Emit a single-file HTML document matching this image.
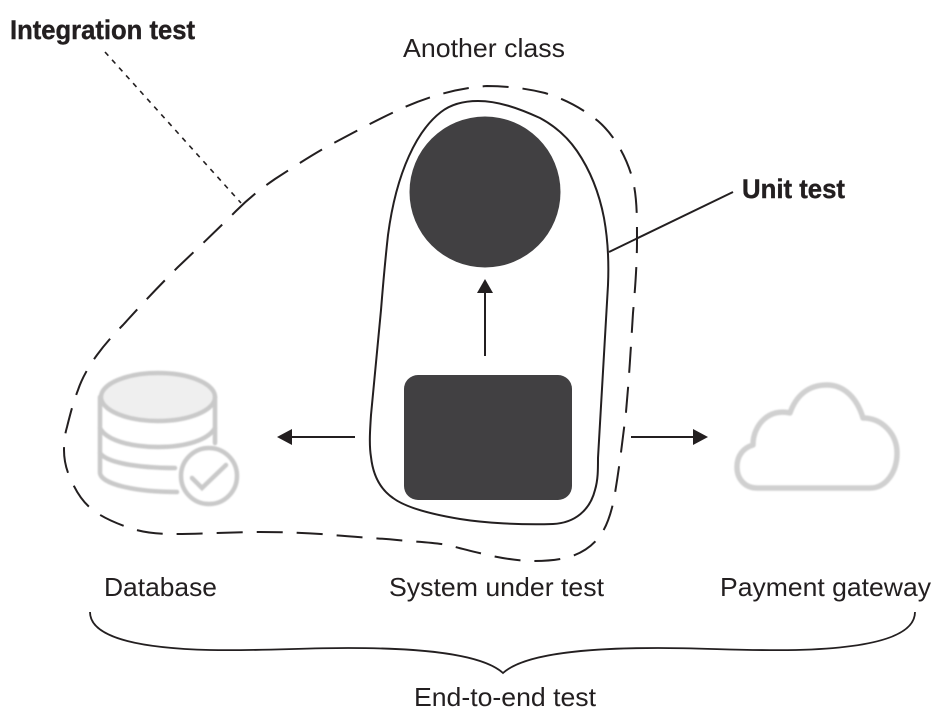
<!DOCTYPE html>
<html>
<head>
<meta charset="utf-8">
<style>
html,body{margin:0;padding:0;background:#fff;}
svg{display:block;}
text{font-family:"Liberation Sans",sans-serif;fill:#231f20;font-size:26px;}
.b{font-weight:bold;font-size:27px;stroke:#231f20;stroke-width:.4px;}
</style>
</head>
<body>
<svg width="938" height="710" viewBox="0 0 938 710" xmlns="http://www.w3.org/2000/svg">
<defs>
<filter id="soft" x="-10%" y="-10%" width="120%" height="120%"><feGaussianBlur stdDeviation="0.7"/></filter>
</defs>
<rect width="938" height="710" fill="#fff"/>

<!-- Database icon -->
<g fill="none" stroke="#c9c9c9" stroke-width="4.5" stroke-linecap="round" filter="url(#soft)">
  <ellipse cx="158" cy="397" rx="57" ry="24" fill="#efefef"/>
  <path d="M100 397V473C101 484 135 492 177 492"/>
  <path d="M215 397V443"/>
  <path d="M100 428C106 440 130 447 158 447C186 447 208 440 215 428"/>
  <path d="M100 453C106 462 135 468 175 468"/>
  <circle cx="209" cy="476" r="28"/>
  <path d="M192 478L202 488L226 465"/>
</g>

<!-- Cloud icon -->
<path d="M757 488H870C886 488 897 472 897 453C897 434 882 418 863 418C857 398 844 385 827 385C808 385 796 396 790 413C770 408 753 424 753 445C743 448 737 456 737 467C737 479 745 488 757 488Z" fill="#fff" stroke="#d0d0d0" stroke-width="5.5" stroke-linejoin="round" filter="url(#soft)"/>

<!-- Solid blob -->
<path d="M478 101C462 101 450 105 441 112C428 122 418 136 409 156C399 178 392 205 388 235C385 262 383 285 381 310L371 415C370 430 369 445 371 457C373 475 380 489 393 498C405 507 430 514 460 519C485 523 520 525 553 524C575 523 590 510 595 490C598 480 598 470 598 458L608 285C609 262 608 240 604 218C599 192 590 170 577 151C566 135 553 125 540 118C518 108 498 101 478 101Z" fill="none" stroke="#231f20" stroke-width="2"/>

<!-- Dashed blob -->
<path d="M236 211C250 197 262 188 275 179C295 166 312 155 330 145C355 132 378 119 405 107C430 96 458 88 487 86C505 86 525 88 545 93C565 99 583 109 598 121C612 133 625 153 632 177C637 195 637 215 637 240C637 265 635 290 633 313C631 345 629 380 626 412C622 445 619 470 614 499C610 518 606 527 600 536C590 549 578 555 565 558C552 561 540 561 528 561C515 560 500 558 488 555C475 552 462 549 452 546C435 542 415 542 397 540C375 538 355 537 333 535C310 533 285 532 260 532C235 532 200 534 173 534C160 534 146 533 133 529C118 524 108 520 97 513C85 505 78 495 72 482C66 470 64 460 64 450C64 440 65 434 67 427C70 415 73 403 78 390C82 378 89 366 97 355C105 344 114 334 123 325C140 306 160 285 178 267C198 248 218 229 236 211Z" fill="none" stroke="#231f20" stroke-width="2" stroke-dasharray="26 14"/>

<!-- Shapes -->
<circle cx="485" cy="192" r="75.5" fill="#414042"/>
<rect x="404" y="375" width="168" height="125" rx="14" ry="14" fill="#414042"/>

<!-- Arrows -->
<g stroke="#231f20" stroke-width="2" fill="none">
  <path d="M485 356V290"/>
  <path d="M355 437H288"/>
  <path d="M631 437H696"/>
  <path d="M609 252L733 192"/>
  <path d="M105 52L241 203" stroke-dasharray="5 5.5" stroke-width="1.6"/>
</g>
<g fill="#231f20">
  <path d="M485 279L477 293H493Z"/>
  <path d="M277 437L292 429V445Z"/>
  <path d="M708 437L693 429V445Z"/>
</g>

<!-- Brace -->
<path d="M90 612C90 635 130 648 210 650C260 651 300 648 348 648C410 648 480 652 503 673C526 652 596 648 658 648C706 648 746 651 796 650C876 648 915 635 915 612" fill="none" stroke="#231f20" stroke-width="1.8"/>

<!-- Labels -->
<text class="b" x="10" y="39" textLength="185" lengthAdjust="spacingAndGlyphs">Integration test</text>
<text class="b" x="742" y="198" textLength="103" lengthAdjust="spacingAndGlyphs">Unit test</text>
<text x="403" y="57" textLength="162" lengthAdjust="spacingAndGlyphs">Another class</text>
<text x="104" y="596" textLength="113" lengthAdjust="spacingAndGlyphs">Database</text>
<text x="389" y="596" textLength="215" lengthAdjust="spacingAndGlyphs">System under test</text>
<text x="720" y="596" textLength="211" lengthAdjust="spacingAndGlyphs">Payment gateway</text>
<text x="414" y="706" textLength="182" lengthAdjust="spacingAndGlyphs">End-to-end test</text>
</svg>
</body>
</html>
